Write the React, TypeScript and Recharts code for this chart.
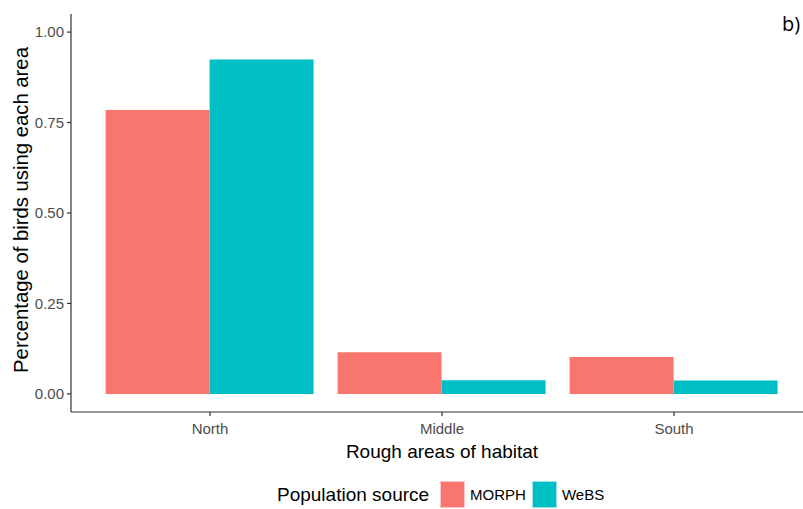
import React from 'react'
import { Bar, BarChart, XAxis, YAxis } from 'recharts'

const areas = ['North', 'Middle', 'South']
const morph = [0.785, 0.115, 0.102]
const webs = [0.924, 0.038, 0.037]
const yTicks = [0, 0.25, 0.5, 0.75, 1]
const seriesNames = ['MORPH', 'WeBS']
const seriesColors = ['#F8766D', '#00BFC4']

const data = areas.map((area, i) => ({ area, MORPH: morph[i], WeBS: webs[i] }))

const FONT = '"Liberation Sans", Arial, sans-serif'

const YTitle = ({ viewBox }: any) => {
  const cy = viewBox.y + viewBox.height / 2 - 3
  return (
    <text
      x={21}
      y={cy}
      transform={`rotate(-90, 21, ${cy})`}
      textAnchor="middle"
      dominantBaseline="central"
      fontSize={20.3}
      fill="#000"
      fontFamily={FONT}
    >
      Percentage of birds using each area
    </text>
  )
}

const XTitle = ({ viewBox }: any) => (
  <text
    x={viewBox.x + viewBox.width / 2}
    y={458}
    textAnchor="middle"
    fontSize={19}
    fill="#000"
    fontFamily={FONT}
  >
    Rough areas of habitat
  </text>
)

const fmt = (v: number) => v.toFixed(2)

export default function App() {
  return (
    <div
      style={{
        position: 'absolute',
        left: 0,
        top: 0,
        width: 803,
        height: 509,
        overflow: 'hidden',
        background: '#fff',
        fontFamily: FONT,
      }}
    >
      <BarChart
        width={830}
        height={509}
        data={data}
        margin={{ top: 14, right: 17, left: 0, bottom: 0 }}
        barCategoryGap="5%"
        barGap={0}
      >
        <XAxis
          dataKey="area"
          height={97}
          padding={{ left: 23, right: 23 }}
          tickSize={4}
          tickMargin={7}
          tick={{ fontSize: 15, fill: '#4D4D4D', fontFamily: FONT }}
          axisLine={{ stroke: '#333', strokeWidth: 1.2 }}
          tickLine={{ stroke: '#333', strokeWidth: 1.2 }}
          label={{ content: XTitle }}
        />
        <YAxis
          width={71}
          domain={[-0.05, 1.05]}
          ticks={yTicks}
          allowDataOverflow
          tickFormatter={fmt}
          tickSize={4}
          tickMargin={3}
          tick={{ fontSize: 15, fill: '#4D4D4D', fontFamily: FONT }}
          axisLine={{ stroke: '#333', strokeWidth: 1.2 }}
          tickLine={{ stroke: '#333', strokeWidth: 1.2 }}
          label={{ content: YTitle }}
        />
        {seriesNames.map((name, i) => (
          <Bar key={name} dataKey={name} fill={seriesColors[i]} isAnimationActive={false} />
        ))}
      </BarChart>

      <div
        style={{
          position: 'absolute',
          left: 277,
          top: 481,
          height: 27,
          display: 'flex',
          alignItems: 'center',
          color: '#000',
        }}
      >
        <span style={{ fontSize: 19, marginRight: 11 }}>Population source</span>
        {seriesNames.map((name, i) => (
          <React.Fragment key={name}>
            <span
              style={{
                display: 'inline-block',
                width: 25,
                height: 27,
                background: seriesColors[i],
                boxSizing: 'border-box',
                border: '1px solid rgba(255,255,255,0.6)',
                marginRight: 5,
              }}
            />
            <span style={{ fontSize: 15, marginRight: 6 }}>{name}</span>
          </React.Fragment>
        ))}
      </div>

      <div
        style={{
          position: 'absolute',
          left: 782,
          top: 10,
          fontSize: 20,
          fontFamily: '"Open Sans", sans-serif',
          color: '#000',
        }}
      >
        b)
      </div>
    </div>
  )
}
